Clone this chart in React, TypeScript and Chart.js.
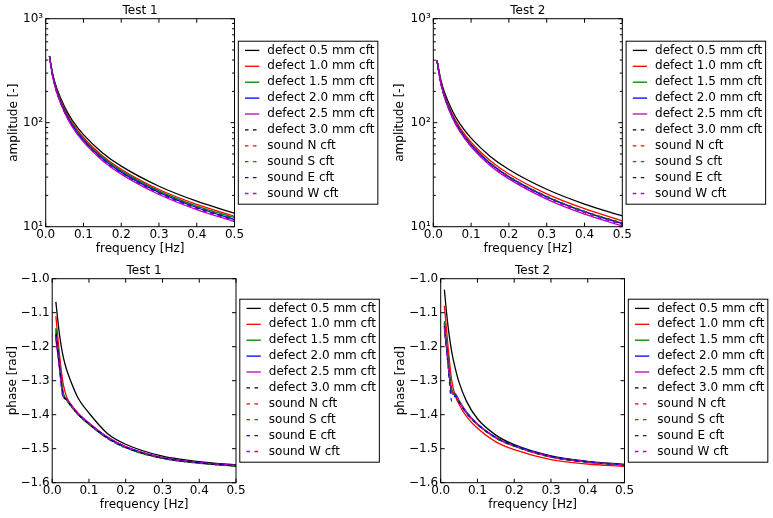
import React, { useEffect, useRef } from 'react';
import { Chart, registerables } from 'chart.js';

Chart.register(...registerables);

const FAMILY = "'DejaVu Sans', 'Bitstream Vera Sans', sans-serif";
const FONT_SIZE = 12;
Chart.defaults.font.family = FAMILY;
Chart.defaults.font.size = FONT_SIZE;
Chart.defaults.color = '#000';

// ---- frequencies [Hz] ----
const ampFreq = [0.01, 0.015, 0.02, 0.03, 0.05, 0.07, 0.1, 0.15, 0.2, 0.3, 0.4, 0.5];
const phaseFreq = [0.01, 0.015, 0.02, 0.03, 0.04, 0.05, 0.07, 0.1, 0.15, 0.2, 0.3, 0.4, 0.5];

const seriesLabels = [
  'defect 0.5 mm cft',
  'defect 1.0 mm cft',
  'defect 1.5 mm cft',
  'defect 2.0 mm cft',
  'defect 2.5 mm cft',
  'defect 3.0 mm cft',
  'sound N cft',
  'sound S cft',
  'sound E cft',
  'sound W cft',
];

// ---- Test 1 amplitude [-] ----
const amp1Defect05 = [440, 344, 280, 211, 142, 106, 76.7, 51.5, 38.2, 24.5, 17.6, 13.5];
const amp1Defect10 = [437, 338, 272, 203, 135, 100, 72.0, 48.2, 35.7, 22.8, 16.4, 12.6];
const amp1Defect15 = [436, 335, 269, 199, 132, 97.5, 70.0, 46.7, 34.6, 22.1, 15.8, 12.2];
const amp1Defect20 = [434, 333, 265, 196, 129, 95.0, 68.0, 45.3, 33.5, 21.4, 15.3, 11.7];
const amp1Defect25 = [433, 329, 261, 191, 125, 91.6, 65.3, 43.4, 32.0, 20.4, 14.6, 11.2];
const amp1Defect30 = [434, 332, 264, 195, 128, 94.1, 67.3, 44.8, 33.1, 21.1, 15.1, 11.6];
const amp1SoundN = [435, 334, 267, 197, 130, 95.8, 68.7, 45.7, 33.8, 21.6, 15.5, 11.9];
const amp1SoundS = [435, 335, 268, 198, 131, 96.7, 69.3, 46.2, 34.2, 21.9, 15.7, 12.0];
const amp1SoundE = [434, 332, 265, 195, 128, 94.6, 67.7, 45.0, 33.3, 21.3, 15.2, 11.7];
const amp1SoundW = [433, 330, 262, 192, 126, 92.4, 66.0, 43.8, 32.4, 20.7, 14.8, 11.3];

// ---- Test 2 amplitude [-] ----
const amp2Defect05 = [400, 316, 258, 194, 131, 98.0, 71.0, 47.7, 35.5, 22.9, 16.5, 12.7];
const amp2Defect10 = [396, 308, 248, 183, 122, 90.2, 64.8, 43.3, 32.1, 20.7, 14.9, 11.4];
const amp2Defect15 = [394, 304, 243, 178, 117, 86.2, 61.7, 41.0, 30.4, 19.5, 14.0, 10.8];
const amp2Defect20 = [394, 303, 241, 177, 116, 85.5, 61.1, 40.6, 30.1, 19.3, 13.9, 10.7];
const amp2Defect25 = [392, 300, 237, 173, 112, 82.3, 58.6, 38.8, 28.8, 18.4, 13.2, 10.2];
const amp2Defect30 = [394, 303, 241, 177, 116, 85.4, 61.0, 40.5, 30.0, 19.3, 13.9, 10.7];
const amp2SoundN = [394, 304, 243, 178, 117, 86.0, 61.5, 40.9, 30.3, 19.5, 14.0, 10.8];
const amp2SoundS = [394, 304, 242, 178, 117, 86.3, 61.8, 41.1, 30.4, 19.6, 14.1, 10.8];
const amp2SoundE = [393, 303, 240, 176, 115, 84.7, 60.5, 40.2, 29.8, 19.1, 13.7, 10.5];
const amp2SoundW = [393, 302, 240, 176, 115, 84.5, 60.3, 40.0, 29.7, 19.0, 13.7, 10.5];

// ---- Test 1 phase [rad] ----
const ph1Defect05 = [-1.068, -1.12, -1.165, -1.23, -1.27, -1.3, -1.35, -1.395, -1.455, -1.487, -1.522, -1.538, -1.548];
const ph1Defect10 = [-1.11, -1.17, -1.225, -1.31, -1.35, -1.368, -1.395, -1.425, -1.466, -1.494, -1.527, -1.541, -1.55];
const ph1Defect15 = [-1.145, -1.2, -1.25, -1.335, -1.357, -1.372, -1.398, -1.427, -1.468, -1.496, -1.528, -1.542, -1.551];
const ph1Defect20 = [-1.165, -1.21, -1.26, -1.345, -1.356, -1.371, -1.397, -1.426, -1.467, -1.495, -1.527, -1.541, -1.55];
const ph1Defect25 = [-1.18, -1.22, -1.265, -1.345, -1.354, -1.37, -1.396, -1.424, -1.465, -1.494, -1.526, -1.541, -1.55];
const ph1Defect30 = [-1.16, -1.21, -1.26, -1.34, -1.358, -1.373, -1.399, -1.428, -1.469, -1.497, -1.528, -1.542, -1.551];
const ph1SoundN = [-1.17, -1.215, -1.262, -1.342, -1.356, -1.372, -1.398, -1.427, -1.468, -1.496, -1.528, -1.542, -1.551];
const ph1SoundS = [-1.15, -1.205, -1.255, -1.338, -1.359, -1.374, -1.4, -1.429, -1.47, -1.498, -1.529, -1.543, -1.552];
const ph1SoundE = [-1.17, -1.215, -1.265, -1.35, -1.355, -1.371, -1.397, -1.426, -1.467, -1.495, -1.527, -1.541, -1.55];
const ph1SoundW = [-1.175, -1.218, -1.265, -1.346, -1.355, -1.371, -1.396, -1.425, -1.466, -1.495, -1.527, -1.541, -1.55];

// ---- Test 2 phase [rad] ----
const ph2Defect05 = [-1.032, -1.09, -1.14, -1.215, -1.265, -1.305, -1.36, -1.412, -1.46, -1.488, -1.521, -1.537, -1.546];
const ph2Defect10 = [-1.08, -1.14, -1.2, -1.3, -1.345, -1.37, -1.405, -1.44, -1.48, -1.503, -1.532, -1.545, -1.552];
const ph2Defect15 = [-1.125, -1.18, -1.235, -1.325, -1.34, -1.36, -1.393, -1.428, -1.468, -1.492, -1.524, -1.539, -1.548];
const ph2Defect20 = [-1.135, -1.19, -1.245, -1.335, -1.342, -1.361, -1.394, -1.428, -1.467, -1.491, -1.523, -1.539, -1.547];
const ph2Defect25 = [-1.15, -1.195, -1.25, -1.33, -1.338, -1.358, -1.392, -1.427, -1.467, -1.492, -1.524, -1.539, -1.548];
const ph2Defect30 = [-1.13, -1.185, -1.24, -1.33, -1.343, -1.362, -1.395, -1.429, -1.468, -1.492, -1.524, -1.539, -1.548];
const ph2SoundN = [-1.14, -1.19, -1.245, -1.332, -1.341, -1.361, -1.394, -1.428, -1.468, -1.492, -1.524, -1.539, -1.548];
const ph2SoundS = [-1.13, -1.185, -1.24, -1.328, -1.342, -1.362, -1.395, -1.429, -1.469, -1.493, -1.525, -1.54, -1.548];
const ph2SoundE = [-1.14, -1.2, -1.255, -1.36, -1.345, -1.363, -1.395, -1.428, -1.467, -1.491, -1.523, -1.539, -1.547];
const ph2SoundW = [-1.145, -1.195, -1.25, -1.335, -1.34, -1.36, -1.393, -1.428, -1.467, -1.492, -1.524, -1.539, -1.548];

// ---- tick labels ----
const xTickValues = [0, 0.1, 0.2, 0.3, 0.4, 0.5];
const xTickLabels = ['0.0', '0.1', '0.2', '0.3', '0.4', '0.5'];
const ampTickValues = [10, 100, 1000];
const ampTickLabels = ['10\u00b9', '10\u00b2', '10\u00b3'];
const ampMinorTicks = [20, 30, 40, 50, 60, 70, 80, 90, 200, 300, 400, 500, 600, 700, 800, 900];
const phaseTickValues = [-1.6, -1.5, -1.4, -1.3, -1.2, -1.1, -1.0];
const phaseTickLabels = ['\u22121.6', '\u22121.5', '\u22121.4', '\u22121.3', '\u22121.2', '\u22121.1', '\u22121.0'];

// ---- line styles ----
const seriesColors = ['#000000', '#ff0000', '#008000', '#0000ff', '#bf00bf', '#000000', '#ff0000', '#008000', '#0000ff', '#bf00bf'];
const seriesDashed = [false, false, false, false, false, true, true, true, true, true];
const DASH = [3.5, 4.5];
const LINE_W = 1.3;

const PAGE_W = 773;
const PAGE_H = 518;
const ROW_H = 259;
const HALF_LINE = (FONT_SIZE * 1.2) / 2;

type Area = { left: number; right: number; top: number; bottom: number };
type PanelSpec = {
  title: string;
  kind: 'amp' | 'phase';
  freq: number[];
  series: number[][];
  ox: number;
  oy: number;
  area: Area;
  yTitleX: number;
};

const panels: PanelSpec[] = [
  {
    title: 'Test 1',
    kind: 'amp',
    freq: ampFreq,
    series: [amp1Defect05, amp1Defect10, amp1Defect15, amp1Defect20, amp1Defect25, amp1Defect30, amp1SoundN, amp1SoundS, amp1SoundE, amp1SoundW],
    ox: 0,
    oy: 0,
    area: { left: 45.7, right: 234.5, top: 18.7, bottom: 226.7 },
    yTitleX: 13.5,
  },
  {
    title: 'Test 2',
    kind: 'amp',
    freq: ampFreq,
    series: [amp2Defect05, amp2Defect10, amp2Defect15, amp2Defect20, amp2Defect25, amp2Defect30, amp2SoundN, amp2SoundS, amp2SoundE, amp2SoundW],
    ox: 386,
    oy: 0,
    area: { left: 433.3, right: 622.3, top: 18.7, bottom: 226.7 },
    yTitleX: 400,
  },
  {
    title: 'Test 1',
    kind: 'phase',
    freq: phaseFreq,
    series: [ph1Defect05, ph1Defect10, ph1Defect15, ph1Defect20, ph1Defect25, ph1Defect30, ph1SoundN, ph1SoundS, ph1SoundE, ph1SoundW],
    ox: 0,
    oy: ROW_H,
    area: { left: 52.2, right: 236.0, top: 278.7, bottom: 482.7 },
    yTitleX: 12.5,
  },
  {
    title: 'Test 2',
    kind: 'phase',
    freq: phaseFreq,
    series: [ph2Defect05, ph2Defect10, ph2Defect15, ph2Defect20, ph2Defect25, ph2Defect30, ph2SoundN, ph2SoundS, ph2SoundE, ph2SoundW],
    ox: 386,
    oy: ROW_H,
    area: { left: 440.7, right: 624.5, top: 278.7, bottom: 482.7 },
    yTitleX: 400.5,
  },
];

function PlotPanel({ spec }: { spec: PanelSpec }) {
  const ref = useRef<HTMLCanvasElement | null>(null);

  useEffect(() => {
    const canvas = ref.current;
    if (!canvas) return;
    const isAmp = spec.kind === 'amp';
    const yTicks = isAmp ? ampTickValues : phaseTickValues;
    const yLabels = isAmp ? ampTickLabels : phaseTickLabels;
    const area = spec.area;
    const cellBottom = spec.oy + ROW_H;

    const datasets = spec.series.map((vals, i) => ({
      label: seriesLabels[i],
      data: spec.freq.map((f, j) => ({ x: f, y: vals[j] })),
      borderColor: seriesColors[i],
      backgroundColor: seriesColors[i],
      borderWidth: LINE_W,
      borderDash: seriesDashed[i] ? DASH : [],
      pointRadius: 0,
      cubicInterpolationMode: 'monotone' as const,
      fill: false,
      order: spec.series.length - i,
    }));

    // frame, inward ticks, title and boxed legend
    const decor = {
      id: 'decor',
      afterDatasetsDraw(chart: any) {
        const { ctx, chartArea: a, scales } = chart;
        const xs = scales.x;
        const ys = scales.y;
        ctx.save();
        ctx.strokeStyle = '#000';
        ctx.lineWidth = 1;
        ctx.setLineDash([]);
        ctx.beginPath();
        const MAJ = 4;
        const MIN = 2.5;
        for (const t of xs.ticks) {
          const px = xs.getPixelForValue(t.value);
          ctx.moveTo(px, a.bottom);
          ctx.lineTo(px, a.bottom - MAJ);
          ctx.moveTo(px, a.top);
          ctx.lineTo(px, a.top + MAJ);
        }
        for (const t of ys.ticks) {
          const py = ys.getPixelForValue(t.value);
          ctx.moveTo(a.left, py);
          ctx.lineTo(a.left + MAJ, py);
          ctx.moveTo(a.right, py);
          ctx.lineTo(a.right - MAJ, py);
        }
        if (isAmp) {
          for (const v of ampMinorTicks) {
            const py = ys.getPixelForValue(v);
            ctx.moveTo(a.left, py);
            ctx.lineTo(a.left + MIN, py);
            ctx.moveTo(a.right, py);
            ctx.lineTo(a.right - MIN, py);
          }
        }
        ctx.stroke();
        ctx.strokeRect(a.left, a.top, a.right - a.left, a.bottom - a.top);
        ctx.restore();
      },
      afterDraw(chart: any) {
        const { ctx, chartArea: a } = chart;
        ctx.save();
        ctx.font = `${FONT_SIZE}px ${FAMILY}`;
        ctx.fillStyle = '#000';
        ctx.textAlign = 'center';
        ctx.textBaseline = 'middle';
        ctx.fillText(spec.title, (a.left + a.right) / 2, a.top - 7.4);

        // legend box, centred on the axes height
        const rowPitch = 15.9;
        const lh = 163;
        const lx = a.right + 3.8;
        const ly = (a.top + a.bottom) / 2 - lh / 2;
        let tw = 0;
        for (const l of seriesLabels) tw = Math.max(tw, ctx.measureText(l).width);
        const lw = 29 + tw + 3.4;
        ctx.fillStyle = '#fff';
        ctx.fillRect(lx, ly, lw, lh);
        ctx.strokeStyle = '#000';
        ctx.lineWidth = 1;
        ctx.strokeRect(lx, ly, lw, lh);
        ctx.textAlign = 'left';
        chart.data.datasets.forEach((ds: any, i: number) => {
          const cy = ly + 9.2 + i * rowPitch;
          ctx.beginPath();
          ctx.strokeStyle = ds.borderColor;
          ctx.lineWidth = LINE_W;
          ctx.setLineDash(ds.borderDash || []);
          ctx.moveTo(lx + 6.7, cy);
          ctx.lineTo(lx + 21, cy);
          ctx.stroke();
          ctx.setLineDash([]);
          ctx.fillStyle = '#000';
          ctx.fillText(ds.label, lx + 29, cy);
        });
        ctx.restore();
      },
    };

    const chart = new Chart(canvas, {
      type: 'line',
      data: { datasets },
      options: {
        animation: false,
        responsive: false,
        devicePixelRatio: 1,
        events: [],
        layout: {
          padding: {
            left: spec.ox,
            top: area.top,
            right: PAGE_W - area.right,
            bottom: PAGE_H - cellBottom,
          },
        },
        plugins: {
          legend: { display: false },
          tooltip: { enabled: false },
          title: { display: false },
        },
        scales: {
          x: {
            type: 'linear',
            min: 0,
            max: 0.5,
            afterBuildTicks: (s: any) => {
              s.ticks = xTickValues.map((v) => ({ value: v }));
            },
            afterFit: (s: any) => {
              s.height = cellBottom - area.bottom;
            },
            grid: { display: false, drawTicks: false },
            border: { display: false },
            ticks: {
              padding: 0.6,
              color: '#000',
              maxRotation: 0,
              autoSkip: false,
              font: { family: FAMILY, size: FONT_SIZE },
              callback: (v: any) => {
                const k = xTickValues.indexOf(Number(v));
                return k >= 0 ? xTickLabels[k] : '';
              },
            },
            title: {
              display: true,
              text: 'frequency [Hz]',
              color: '#000',
              font: { family: FAMILY, size: FONT_SIZE },
              padding: { top: 0, bottom: cellBottom - area.bottom - 21.8 - HALF_LINE },
            },
          },
          y: {
            type: isAmp ? 'logarithmic' : 'linear',
            min: isAmp ? 10 : -1.6,
            max: isAmp ? 1000 : -1.0,
            afterBuildTicks: (s: any) => {
              s.ticks = yTicks.map((v) => ({ value: v }));
            },
            afterFit: (s: any) => {
              s.width = area.left - spec.ox;
            },
            grid: { display: false, drawTicks: false },
            border: { display: false },
            ticks: {
              padding: 2.6,
              color: '#000',
              autoSkip: false,
              font: { family: FAMILY, size: FONT_SIZE },
              callback: (v: any) => {
                const k = yTicks.indexOf(Number(v));
                return k >= 0 ? yLabels[k] : '';
              },
            },
            title: {
              display: true,
              text: isAmp ? 'amplitude [-]' : 'phase [rad]',
              color: '#000',
              font: { family: FAMILY, size: FONT_SIZE },
              padding: { top: spec.yTitleX - spec.ox - HALF_LINE, bottom: 0 },
            },
          },
        },
      } as any,
      plugins: [decor],
    });

    return () => chart.destroy();
  }, [spec]);

  return (
    <canvas
      ref={ref}
      width={PAGE_W}
      height={PAGE_H}
      style={{ position: 'absolute', left: 0, top: 0 }}
    />
  );
}

export default function App() {
  return (
    <div
      style={{
        position: 'absolute',
        left: 0,
        top: 0,
        width: PAGE_W,
        height: PAGE_H,
        overflow: 'hidden',
        background: '#fff',
      }}
    >
      {panels.map((p, i) => (
        <PlotPanel key={i} spec={p} />
      ))}
    </div>
  );
}
